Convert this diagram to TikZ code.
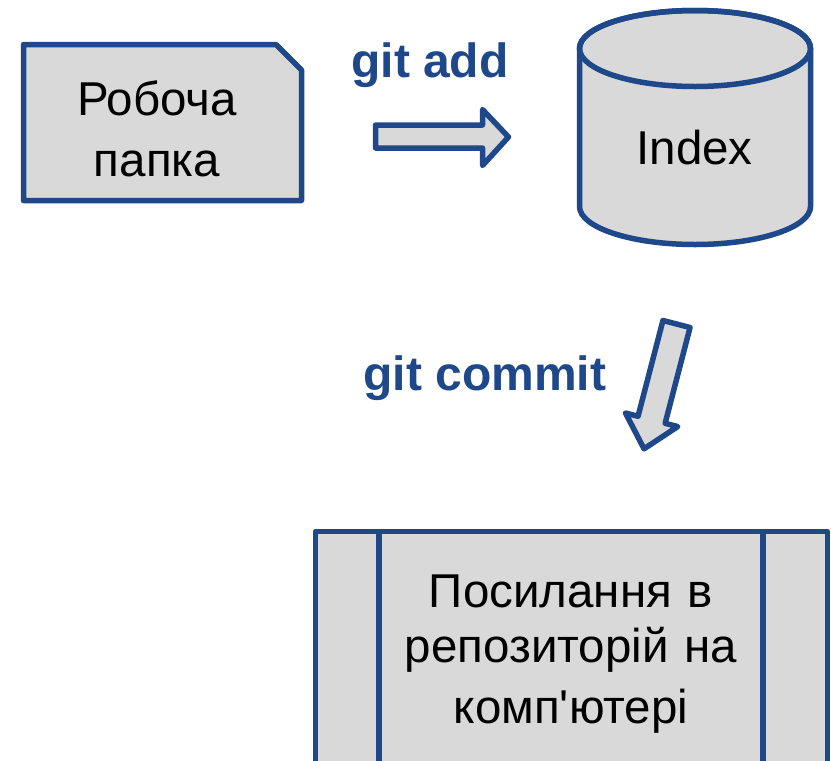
\documentclass[tikz,border=0pt]{standalone}
\usepackage{fontspec}
\setmainfont{Liberation Sans}
\definecolor{bord}{RGB}{30,72,137}
\definecolor{boxfill}{RGB}{217,217,217}
\tikzset{
  shapeline/.style={draw=bord, fill=boxfill, line width=5.5pt, line join=round},
  plainline/.style={draw=bord, line width=5.5pt},
  bodytext/.style={text=black, font=\fontsize{47.5}{61}\selectfont, align=center, text width=400pt, inner sep=0pt, anchor=base},
  cmdtext/.style={text=bord, font=\fontsize{48}{58}\selectfont\bfseries, inner sep=0pt, anchor=base},
}
\begin{document}
\begin{tikzpicture}[x=1pt,y=-1pt]
\useasboundingbox (0,0) rectangle (831,761);
\clip (0,0) rectangle (831,761);
% working folder box
\path[shapeline] (23.5,44.5) -- (276,44.5) -- (301.5,70) -- (301.5,200.5) -- (23.5,200.5) -- cycle;
\node[bodytext] (work) at (157,115) {Робоча\\папка};
% index cylinder
\path[shapeline] (579.5,48.5) -- (579.5,206.5) arc[start angle=180, end angle=0, x radius=115.5, y radius=38]
  -- (810.5,48.5) arc[start angle=0, end angle=-180, x radius=115.5, y radius=38] -- cycle;
\path[plainline] (695,48.5) ellipse [x radius=115.5, y radius=38];
\node[bodytext] (index) at (694.5,164) {Index};
% git add arrow
\path[shapeline] (375.5,125) -- (482.5,125) -- (482.5,109.5) -- (508.5,137) -- (482.5,165.5) -- (482.5,148) -- (375.5,148) -- cycle;
\node[cmdtext] (add) at (430,77) {git add};
% git commit arrow
\path[shapeline] (690.05,327.52) -- (665.14,423.30) -- (677.71,426.57) -- (644.04,448.81) -- (625.47,412.99) -- (638.04,416.26) -- (662.95,320.48) -- cycle;
\node[cmdtext] (commit) at (485,390) {git commit};
% repository box
\path[shapeline] (315.5,531.5) rectangle (827.5,790);
\path[plainline] (379,531.5) -- (379,790);
\path[plainline] (763,531.5) -- (763,790);
\node[bodytext] (repo) at (571,607) {\fontsize{47.5}{55}\selectfont Посилання в\\репозиторій на\\комп\textquotesingle ютері};
\end{tikzpicture}
\end{document}
